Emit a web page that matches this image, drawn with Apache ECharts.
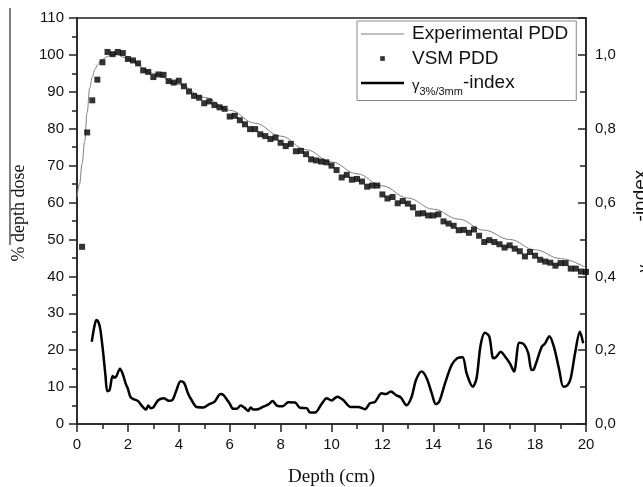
<!DOCTYPE html>
<html>
<head>
<meta charset="utf-8">
<script src="https://cdn.jsdelivr.net/npm/echarts@6/dist/echarts.min.js"></script>
<style>html,body{margin:0;padding:0;background:#fff}#c{width:643px;height:487px}</style>
</head>
<body>
<div id="c"></div>
<script>
// ---- data ----
const xTicks = [0, 2, 4, 6, 8, 10, 12, 14, 16, 18, 20];
const expDepth = [0, 0.1, 0.2, 0.3, 0.4, 0.5, 0.6, 0.7, 0.8, 0.9, 1.0, 1.2, 1.4, 1.6, 1.8,
  2, 3, 4, 5, 6, 7, 8, 9, 10, 11, 12, 13, 14, 15, 16, 17, 18, 19, 20];
const expPDD = [61.5, 65, 70.5, 76.5, 84.5, 91, 94, 96, 97.2, 98, 98.8, 99.6, 100, 100, 99.4,
  98.8, 95, 92, 88.5, 85, 81.5, 78, 74.3, 71, 67.8, 64.5, 61.2, 58.2, 55.5, 52.5, 50, 47.2, 44.8, 42.3];
const vsmDepth = [0.2, 0.4, 0.6, 0.8, 1.0, 1.2, 1.4, 1.6, 1.8, 2.0, 2.2, 2.4, 2.6, 2.8, 3.0, 3.2, 3.4, 3.6, 3.8, 4.0,
  4.2, 4.4, 4.6, 4.8, 5.0, 5.2, 5.4, 5.6, 5.8, 6.0, 6.2, 6.4, 6.6, 6.8, 7.0, 7.2, 7.4, 7.6, 7.8, 8.0,
  8.2, 8.4, 8.6, 8.8, 9.0, 9.2, 9.4, 9.6, 9.8, 10.0, 10.2, 10.4, 10.6, 10.8, 11.0, 11.2, 11.4, 11.6, 11.8, 12.0,
  12.2, 12.4, 12.6, 12.8, 13.0, 13.2, 13.4, 13.6, 13.8, 14.0, 14.2, 14.4, 14.6, 14.8, 15.0, 15.2, 15.4, 15.6, 15.8, 16.0,
  16.2, 16.4, 16.6, 16.8, 17.0, 17.2, 17.4, 17.6, 17.8, 18.0, 18.2, 18.4, 18.6, 18.8, 19.0, 19.2, 19.4, 19.6, 19.8, 20.0];
const vsmPDD = [48, 79, 87.7, 93.3, 98, 100.8, 100.2, 100.8, 100.5, 98.9, 98.5, 97.7, 95.8, 95.4, 94.0, 94.7, 94.6, 92.9, 92.5, 93.0,
  91.5, 90.1, 88.9, 88.4, 86.9, 87.4, 86.4, 85.8, 85.4, 83.3, 83.5, 82.3, 81.2, 79.9, 79.9, 78.5, 78.0, 77.2, 77.6, 76.2,
  75.3, 75.9, 73.9, 74.0, 73.1, 71.7, 71.4, 71.1, 70.9, 70.0, 68.8, 66.8, 67.5, 66.2, 66.4, 65.7, 64.3, 64.6, 64.6, 62.2,
  61.1, 61.5, 59.8, 60.4, 59.7, 58.7, 57.0, 57.1, 56.5, 56.5, 56.8, 54.9, 54.3, 53.7, 52.5, 52.6, 51.8, 52.7, 51.0, 49.3,
  49.8, 49.3, 48.7, 47.8, 48.4, 47.5, 46.8, 45.4, 46.6, 45.6, 44.5, 44.0, 43.7, 42.9, 43.6, 43.6, 42.1, 42.1, 41.3, 41.2];
const gammaDepth = [0.58, 0.7, 0.77, 0.85, 0.92, 1.03, 1.12, 1.19, 1.28, 1.4, 1.48, 1.55, 1.69, 1.8, 1.91, 2.0, 2.11, 2.24, 2.4, 2.54,
  2.71, 2.8, 2.9, 3.0, 3.2, 3.42, 3.6, 3.76, 3.9, 4.07, 4.21, 4.35, 4.5, 4.7, 4.96, 5.2, 5.4, 5.64, 5.75, 5.88,
  6.0, 6.14, 6.27, 6.43, 6.6, 6.73, 6.82, 6.93, 7.12, 7.32, 7.52, 7.69, 7.85, 8.08, 8.3, 8.57, 8.76, 9.02, 9.16, 9.35,
  9.61, 9.81, 10.0, 10.23, 10.46, 10.75, 11.05, 11.32, 11.51, 11.71, 11.97, 12.14, 12.33, 12.54, 12.72, 12.95, 13.15, 13.32, 13.54, 13.74,
  13.94, 14.1, 14.23, 14.46, 14.72, 14.94, 15.15, 15.31, 15.55, 15.7, 15.86, 16.03, 16.2, 16.36, 16.49, 16.65, 16.82, 17.01, 17.17, 17.38,
  17.56, 17.73, 17.86, 17.95, 18.26, 18.39, 18.56, 18.74, 18.95, 19.11, 19.27, 19.4, 19.57, 19.76, 19.89];
const gammaIdx = [0.223, 0.27, 0.282, 0.275, 0.255, 0.192, 0.13, 0.089, 0.092, 0.13, 0.125, 0.13, 0.150, 0.135, 0.110, 0.095, 0.072, 0.067, 0.062, 0.050,
  0.039, 0.050, 0.043, 0.045, 0.065, 0.070, 0.063, 0.066, 0.09, 0.116, 0.111, 0.085, 0.065, 0.046, 0.045, 0.054, 0.060, 0.081, 0.079, 0.067,
  0.055, 0.041, 0.041, 0.050, 0.043, 0.035, 0.045, 0.039, 0.040, 0.047, 0.053, 0.062, 0.050, 0.048, 0.059, 0.058, 0.044, 0.043, 0.031, 0.031,
  0.054, 0.070, 0.064, 0.074, 0.065, 0.046, 0.046, 0.040, 0.056, 0.060, 0.083, 0.081, 0.088, 0.078, 0.072, 0.051, 0.074, 0.119, 0.142, 0.124,
  0.083, 0.054, 0.060, 0.110, 0.160, 0.178, 0.181, 0.137, 0.101, 0.124, 0.214, 0.247, 0.237, 0.178, 0.183, 0.196, 0.183, 0.164, 0.142, 0.220,
  0.216, 0.192, 0.146, 0.148, 0.209, 0.218, 0.238, 0.209, 0.146, 0.101, 0.105, 0.124, 0.192, 0.250, 0.219];

const nameExp = 'Experimental PDD';
const nameVsm = 'VSM PDD';
const nameGamma = 'γ3%/3mm-index';
const gammaRich = '{g|γ}{s|3%/3mm}{t|-index}';

const pair = (xs, ys) => xs.map((x, i) => [x, ys[i]]);
const sans = 'Liberation Sans, Arial, sans-serif';
const serif = 'Liberation Serif, Times New Roman, serif';
const axisCol = '#222';
const richStyles = {
  g: { fontSize: 15, fontFamily: sans, color: '#111', lineHeight: 20, padding: [3, 0, -3, 0] },
  s: { fontSize: 11, fontFamily: sans, color: '#111', lineHeight: 20, padding: [9, 0, -9, 0] },
  t: { fontSize: 19, fontFamily: sans, color: '#111', lineHeight: 20 }
};

const chart = echarts.init(document.getElementById('c'), null, { renderer: 'canvas' });
chart.setOption({
  animation: false,
  backgroundColor: '#fff',
  grid: { left: 77, right: 57, top: 18, bottom: 63, show: true, borderColor: axisCol, borderWidth: 1.5,
          containLabel: false, outerBoundsMode: 'none' },
  legend: {
    orient: 'vertical', left: 357, top: 21,
    padding: [3, 8, 3, 4], itemGap: 4.5, itemWidth: 43, itemHeight: 14,
    borderColor: '#888', borderWidth: 1, backgroundColor: '#fff',
    textStyle: { fontSize: 19, fontFamily: sans, color: '#111', lineHeight: 20, padding: [0, 0, 0, 3], rich: richStyles },
    formatter: n => n === nameGamma ? gammaRich : n,
    data: [
      { name: nameExp, icon: 'path://M0,0h43v1h-43z' },
      { name: nameVsm, icon: 'path://M0,0M12,12M4,4h4v4h-4z' },
      { name: nameGamma, icon: 'path://M0,0h43v2.5h-43z' }
    ]
  },
  xAxis: {
    type: 'value', min: 0, max: 20, interval: 2,
    name: 'Depth (cm)', nameLocation: 'middle', nameGap: 44,
    nameTextStyle: { fontFamily: serif, fontSize: 19, color: '#111' },
    axisLine: { lineStyle: { color: axisCol, width: 1.5 } },
    axisTick: { length: 8, lineStyle: { color: axisCol, width: 1.5 } },
    minorTick: { show: true, splitNumber: 2, length: 5, lineStyle: { color: axisCol, width: 1.5 } },
    axisLabel: { fontFamily: sans, fontSize: 15, color: '#111', margin: 13,
                 formatter: v => xTicks.includes(v) ? String(v) : '' },
    splitLine: { show: false }
  },
  yAxis: [
    {
      type: 'value', min: 0, max: 110, interval: 10, position: 'left',
      name: '% depth dose', nameLocation: 'middle', nameGap: 49, nameRotate: 90,
      nameTextStyle: { fontFamily: serif, fontSize: 18, color: '#111', padding: [0, 0, 0, 16] },
      axisLine: { show: true, lineStyle: { color: axisCol, width: 1.5 } },
      axisTick: { show: true, length: 8, lineStyle: { color: axisCol, width: 1.5 } },
      minorTick: { show: true, splitNumber: 2, length: 5, lineStyle: { color: axisCol, width: 1.5 } },
      axisLabel: { fontFamily: sans, fontSize: 15, color: '#111', margin: 13 },
      splitLine: { show: false }
    },
    {
      type: 'value', min: 0, max: 1.1, interval: 0.2, position: 'right',
      name: gammaRich, nameLocation: 'middle', nameGap: 45, nameRotate: 90,
      nameTextStyle: { fontFamily: sans, fontSize: 18, color: '#111', rich: richStyles },
      axisLine: { show: true, lineStyle: { color: axisCol, width: 1.5 } },
      axisTick: { show: true, inside: true, length: 8, lineStyle: { color: axisCol, width: 1.5 } },
      minorTick: { show: true, splitNumber: 2, length: 6, lineStyle: { color: axisCol, width: 1.5 } },
      axisLabel: { fontFamily: sans, fontSize: 15, color: '#111', margin: 9, showMaxLabel: false,
                   formatter: v => (Math.round(v * 10) % 2 === 0 && v <= 1.0001) ? v.toFixed(1).replace('.', ',') : '' },
      splitLine: { show: false }
    }
  ],
  series: [
    {
      name: nameExp, type: 'line', yAxisIndex: 0, data: pair(expDepth, expPDD),
      smooth: 0.4, smoothMonotone: 'x', showSymbol: false, symbol: 'none',
      lineStyle: { color: '#808080', width: 1 }, itemStyle: { color: '#808080' }, z: 2
    },
    {
      name: nameVsm, type: 'scatter', yAxisIndex: 0, data: pair(vsmDepth, vsmPDD),
      symbol: 'rect', symbolSize: 6, itemStyle: { color: '#000' }, z: 3
    },
    {
      name: nameGamma, type: 'line', yAxisIndex: 1, data: pair(gammaDepth, gammaIdx),
      smooth: 0.3, showSymbol: false, symbol: 'none',
      lineStyle: { color: '#000', width: 2.5 }, itemStyle: { color: '#000' }, z: 4
    }
  ],
  graphic: [
    { type: 'line', shape: { x1: 10, y1: 8, x2: 10, y2: 245 }, style: { stroke: '#555', lineWidth: 1.5 }, silent: true }
  ]
});
</script>
</body>
</html>
